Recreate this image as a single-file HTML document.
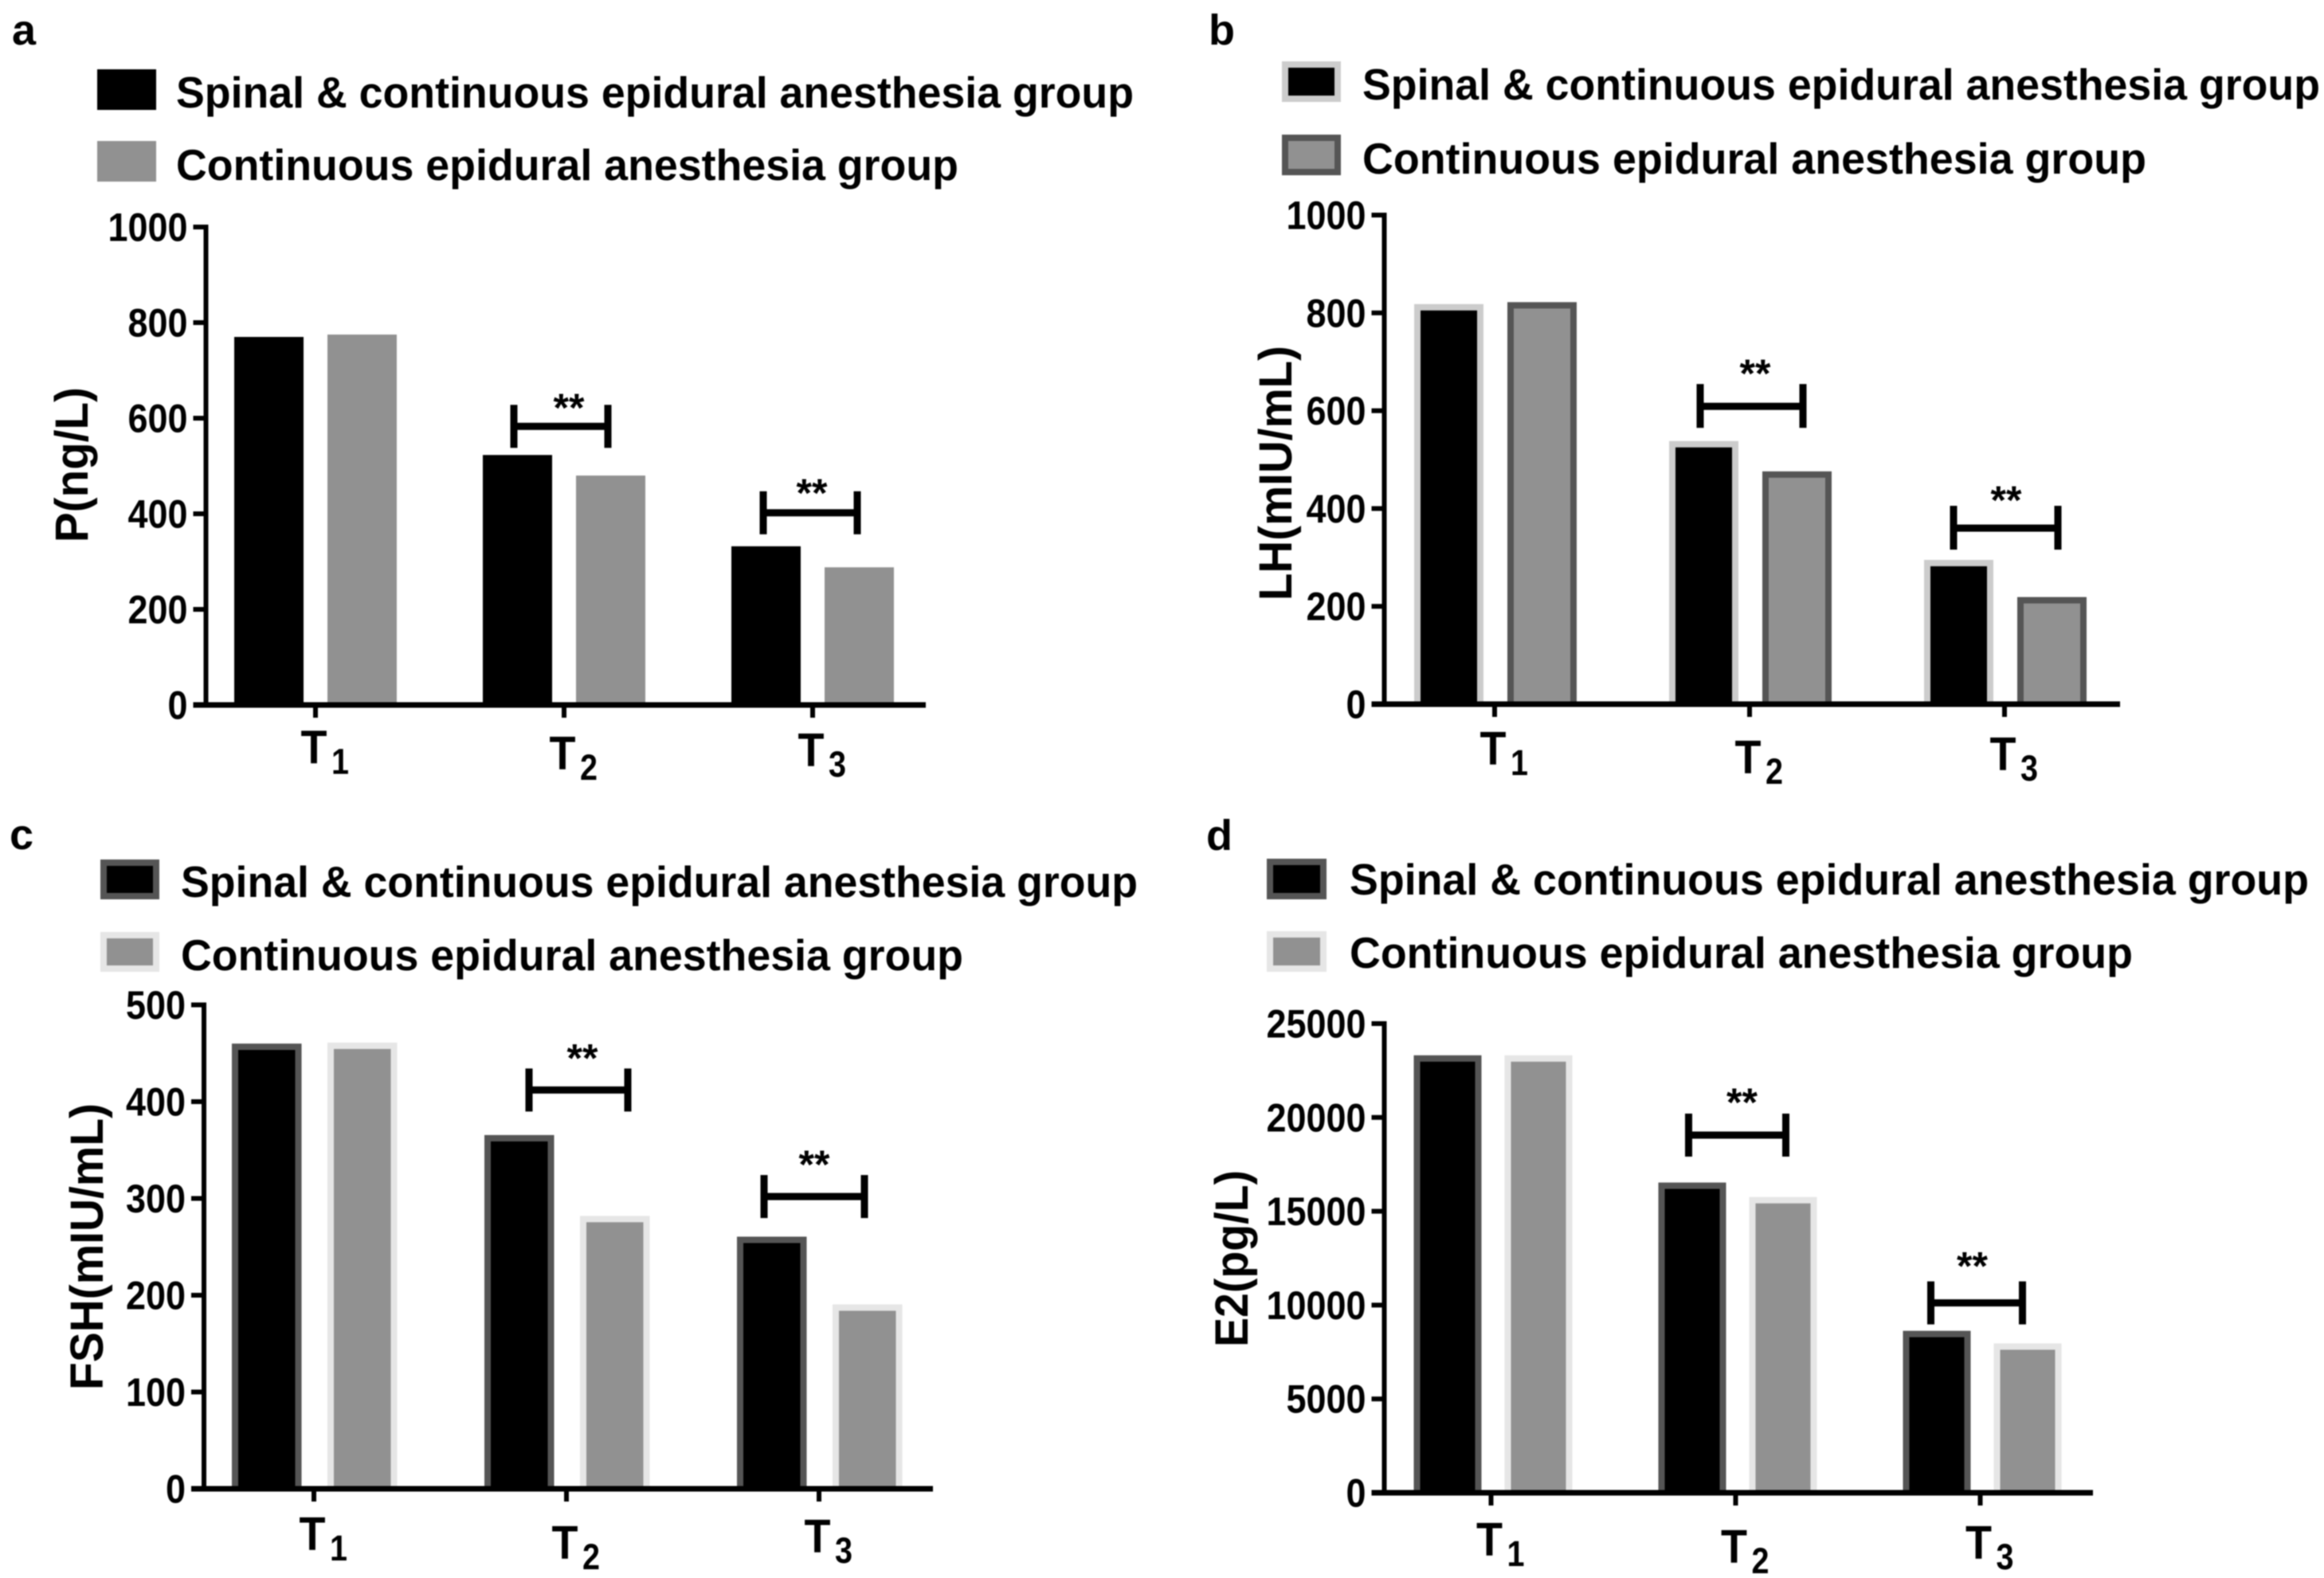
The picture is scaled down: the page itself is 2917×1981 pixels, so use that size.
<!DOCTYPE html>
<html lang="en">
<head>
<meta charset="utf-8">
<title>Hormone levels by anesthesia group</title>
<style>
html,body{margin:0;padding:0;background:#fff}
svg{display:block;filter:blur(0.7px)}
text{font-family:"Liberation Sans",Arial,sans-serif;font-weight:bold;fill:#000}
.legend{font-size:55px}
.letter{font-size:54px}
.ytitle{font-size:58px}
.tick{font-size:50px;text-anchor:end}
.cat{font-size:59px}
.catsub{font-size:45px}
.stars{font-size:50px;text-anchor:middle}
</style>
</head>
<body>
<svg id="figure" width="2917" height="1981" viewBox="0 0 2917 1981" xmlns="http://www.w3.org/2000/svg">
  <rect x="0" y="0" width="2917" height="1981" fill="#fff"/>

  <g id="panel-a">
    <text class="letter" x="15" y="56">a</text>
    <rect x="122" y="87" width="74" height="51" fill="#000"/>
    <text class="legend" x="221" y="135" textLength="1202" lengthAdjust="spacingAndGlyphs">Spinal &amp; continuous epidural anesthesia group</text>
    <rect x="122" y="177" width="74" height="51" fill="#919191"/>
    <text class="legend" x="221" y="226" textLength="982" lengthAdjust="spacingAndGlyphs">Continuous epidural anesthesia group</text>
    <text class="ytitle" transform="translate(110,681) rotate(-90)" textLength="195" lengthAdjust="spacingAndGlyphs">P(ng/L)</text>
  </g>

  <g id="panel-b">
    <text class="letter" x="1517" y="56">b</text>
    <rect x="1613" y="81" width="66" height="43" fill="#000" stroke="#ccc" stroke-width="8"/>
    <text class="legend" x="1710" y="125" textLength="1202" lengthAdjust="spacingAndGlyphs">Spinal &amp; continuous epidural anesthesia group</text>
    <rect x="1613" y="173" width="66" height="43" fill="#919191" stroke="#555" stroke-width="8"/>
    <text class="legend" x="1710" y="218" textLength="984" lengthAdjust="spacingAndGlyphs">Continuous epidural anesthesia group</text>
    <text class="ytitle" transform="translate(1621,754) rotate(-90)" textLength="320" lengthAdjust="spacingAndGlyphs">LH(mIU/mL)</text>
  </g>

  <g id="panel-c">
    <text class="letter" x="12" y="1066">c</text>
    <rect x="130" y="1083" width="66" height="42" fill="#000" stroke="#555" stroke-width="8"/>
    <text class="legend" x="227" y="1126" textLength="1201" lengthAdjust="spacingAndGlyphs">Spinal &amp; continuous epidural anesthesia group</text>
    <rect x="130" y="1174" width="66" height="42" fill="#919191" stroke="#e6e6e6" stroke-width="8"/>
    <text class="legend" x="227" y="1218" textLength="982" lengthAdjust="spacingAndGlyphs">Continuous epidural anesthesia group</text>
    <text class="ytitle" transform="translate(129,1745) rotate(-90)" textLength="360" lengthAdjust="spacingAndGlyphs">FSH(mIU/mL)</text>
  </g>

  <g id="panel-d">
    <text class="letter" x="1514" y="1067">d</text>
    <rect x="1594" y="1082" width="67" height="43" fill="#000" stroke="#555" stroke-width="8"/>
    <text class="legend" x="1694" y="1123" textLength="1204" lengthAdjust="spacingAndGlyphs">Spinal &amp; continuous epidural anesthesia group</text>
    <rect x="1594" y="1173" width="67" height="43" fill="#919191" stroke="#e6e6e6" stroke-width="8"/>
    <text class="legend" x="1694" y="1215" textLength="983" lengthAdjust="spacingAndGlyphs">Continuous epidural anesthesia group</text>
    <text class="ytitle" transform="translate(1566,1691) rotate(-90)" textLength="222" lengthAdjust="spacingAndGlyphs">E2(pg/L)</text>
  </g>
</svg>

<script>
// ---- Chart data ----
const categories = ['T', 'T', 'T'];
const categorySubscripts = ['1', '2', '3'];

const aSpinal = [770, 523, 332];
const aEpidural = [775, 480, 288];
const aTicks = [0, 200, 400, 600, 800, 1000];
const aSignificance = [null, 583, 402];

const bSpinal = [818, 538, 295];
const bEpidural = [822, 476, 219];
const bTicks = [0, 200, 400, 600, 800, 1000];
const bSignificance = [null, 609, 360];

const cSpinal = [460, 365.5, 260.5];
const cEpidural = [461, 282, 190.5];
const cTicks = [0, 100, 200, 300, 400, 500];
const cSignificance = [null, 412, 302];

const dSpinal = [23310, 16530, 8630];
const dEpidural = [23310, 15760, 7960];
const dTicks = [0, 5000, 10000, 15000, 20000, 25000];
const dSignificance = [null, 19060, 10120];

// ---- Layout ----
const SVGNS = 'http://www.w3.org/2000/svg';

const panels = [
  { id: 'a', spinal: aSpinal, epidural: aEpidural, ticks: aTicks, sig: aSignificance,
    axisX: 258.5, endX: 1162, topY: 285, baseY: 885, firstCat: 396, catStep: 312,
    spinalDx: -102, epiDx: 15, barW: 87, labelY: [958.6, 966, 962],
    spinalFill: '#000', spinalStroke: null, epiFill: '#919191', epiStroke: null,
    brLeft: [0, -63, -62], brRight: [0, 55, 56], starDx: [0, 6, -1], starUp: [0, 6, 8], capUp: 27, capDown: 27 },
  { id: 'b', spinal: bSpinal, epidural: bEpidural, ticks: bTicks, sig: bSignificance,
    axisX: 1737.5, endX: 2661, topY: 270, baseY: 884, firstCat: 1876, catStep: 320,
    spinalDx: -101, epiDx: 16, barW: 87, labelY: [960, 971, 967],
    spinalFill: '#000', spinalStroke: '#ccc', epiFill: '#919191', epiStroke: '#555',
    brLeft: [0, -62, -64], brRight: [0, 67, 67], starDx: [0, 7, 2], starUp: [0, 24, 18], capUp: 28, capDown: 27 },
  { id: 'c', spinal: cSpinal, epidural: cEpidural, ticks: cTicks, sig: cSignificance,
    axisX: 256, endX: 1171, topY: 1261.5, baseY: 1869, firstCat: 394, catStep: 317,
    spinalDx: -103, epiDx: 17, barW: 87.5, labelY: [1946, 1957, 1949],
    spinalFill: '#000', spinalStroke: '#555', epiFill: '#919191', epiStroke: '#e6e6e6',
    brLeft: [0, -47, -69], brRight: [0, 77, 57], starDx: [0, 20, -6], starUp: [0, 23, 23], capUp: 27, capDown: 27 },
  { id: 'd', spinal: dSpinal, epidural: dEpidural, ticks: dTicks, sig: dSignificance,
    axisX: 1737.5, endX: 2627, topY: 1285, baseY: 1874, firstCat: 1871.5, catStep: 307,
    spinalDx: -97, epiDx: 17, barW: 85, labelY: [1953, 1962, 1957],
    spinalFill: '#000', spinalStroke: '#555', epiFill: '#919191', epiStroke: '#e6e6e6',
    brLeft: [0, -59, -62], brRight: [0, 63, 53], starDx: [0, 8, -10], starUp: [0, 24, 29], capUp: 27, capDown: 27 }
];

function yScale(p, v) {
  const max = p.ticks[p.ticks.length - 1];
  return p.baseY - (v / max) * (p.baseY - p.topY);
}
function xScale(p, i) {
  return p.firstCat + i * p.catStep;
}
function shape(tag, parent, attrs) {
  const el = document.createElementNS(SVGNS, tag);
  Object.keys(attrs).forEach(function (k) { el.setAttribute(k, attrs[k]); });
  parent.appendChild(el);
  return el;
}
function drawBar(p, g, i, value, dx, fill, stroke, series) {
  const sw = stroke ? 8 : 0;
  const x = xScale(p, i) + dx;
  const y = yScale(p, value);
  const h = p.baseY - y;
  const outer = shape('rect', g, { x: x, y: y, width: p.barW, height: h, fill: stroke || fill });
  
  
  if (stroke) {
    const inner = shape('rect', g, { x: x + sw, y: y + sw, width: p.barW - 2 * sw, height: h - sw, fill: fill });
    
    
  }
}
function drawPanel(p) {
  const g = document.getElementById('panel-' + p.id);

  categories.forEach(function (c, i) {
    drawBar(p, g, i, p.spinal[i], p.spinalDx, p.spinalFill, p.spinalStroke, 'spinal');
    drawBar(p, g, i, p.epidural[i], p.epiDx, p.epiFill, p.epiStroke, 'epidural');
  });

  const yAxis = shape('line', g, { x1: p.axisX, x2: p.axisX, y1: p.topY - 3, y2: p.baseY + 3, stroke: '#000', 'stroke-width': 6 });
  
  
  const xAxis = shape('line', g, { x1: p.axisX - 16, x2: p.endX, y1: p.baseY, y2: p.baseY, stroke: '#000', 'stroke-width': 7 });
  
  

  p.ticks.forEach(function (t) {
    const y = yScale(p, t);
    const mark = shape('line', g, { x1: p.axisX - 16, x2: p.axisX, y1: y, y2: y, stroke: '#000', 'stroke-width': 6 });
    
    
    const label = shape('text', g, { class: 'tick', x: p.axisX - 23, y: y + 17.5, textLength: String(t).length * 25, lengthAdjust: 'spacingAndGlyphs' });
    
    
    label.textContent = t;
  });

  categories.forEach(function (c, i) {
    const x = xScale(p, i);
    const mark = shape('line', g, { x1: x, x2: x, y1: p.baseY, y2: p.baseY + 16, stroke: '#000', 'stroke-width': 6 });
    
    
    const label = shape('text', g, { class: 'cat', x: x - 18.5, y: p.labelY[i], textLength: 33, lengthAdjust: 'spacingAndGlyphs' });
    
    
    label.textContent = c;
    const sub = shape('text', g, { class: 'catsub', x: x + 20, y: p.labelY[i] + 13, textLength: 22, lengthAdjust: 'spacingAndGlyphs' });
    
    
    sub.textContent = categorySubscripts[i];
  });

  p.sig.forEach(function (v, i) {
    if (v === null) return;
    const y = yScale(p, v);
    const left = xScale(p, i) + p.brLeft[i];
    const right = xScale(p, i) + p.brRight[i];
    const bar = shape('path', g, {
      d: 'M' + left + ' ' + (y - p.capUp) + 'V' + (y + p.capDown) + 'M' + right + ' ' + (y - p.capUp) + 'V' + (y + p.capDown) + 'M' + left + ' ' + y + 'H' + right,
      stroke: '#000', 'stroke-width': 9, fill: 'none'
    });
    
    
    const stars = shape('text', g, { class: 'stars', x: xScale(p, i) + p.starDx[i], y: y - p.starUp[i] });
    
    
    stars.textContent = '**';
  });
}
panels.forEach(drawPanel);
</script>
</body>
</html>
